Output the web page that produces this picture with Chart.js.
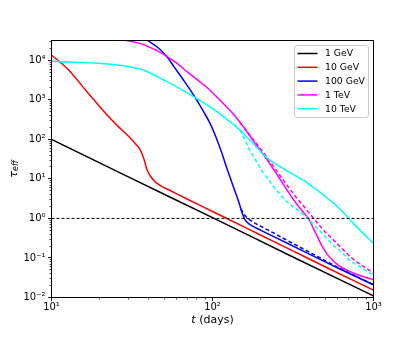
<!DOCTYPE html>
<html><head><meta charset="utf-8">
<script src="https://cdn.jsdelivr.net/npm/chart.js@4.4.1/dist/chart.umd.min.js"></script>
<style>html,body{margin:0;padding:0;background:#fff}canvas{display:block}</style>
</head><body>
<canvas id="c" width="415" height="340" style="width:415px;height:340px"></canvas>
<script>
// ---- data ----
const seriesLabels = ['1 GeV', '10 GeV', '100 GeV', '1 TeV', '10 TeV'];
const seriesColors = ['#000000', '#ff0000', '#0000ff', '#ff00ff', '#00ffff'];

const gev1T   = [10, 30, 100, 300, 1000];
const gev1Tau = [100, 11.2, 1.05, 0.117, 0.011];

const gev10T   = [10, 12.6, 16.7, 22.3, 26, 29.8, 33, 35.5, 37.5, 39, 41, 44, 48, 55, 70, 100, 150, 200, 300, 500, 1000];
const gev10Tau = [13600, 6000, 1550, 400, 210, 125, 80, 55, 32, 18, 12, 8.5, 6.6, 5.0, 3.06, 1.5, 0.667, 0.375, 0.167, 0.06, 0.0153];

const gev100T   = [34, 39.6, 45.8, 51.8, 58, 65.8, 79.7, 88, 96.4, 105, 115, 121, 128.5, 137, 144.8, 150, 154, 158, 164, 175, 200, 240, 300, 400, 600, 1000];
const gev100Tau = [50000, 31600, 21000, 12600, 6600, 3220, 1000, 500, 257, 115, 42, 22, 11, 5.2, 2.8, 1.75, 1.25, 0.98, 0.8, 0.66, 0.5, 0.347, 0.222, 0.125, 0.0556, 0.021];
const gev100DashT   = [150, 155, 160, 167, 180, 200, 234, 300, 400, 600, 1000];
const gev100DashTau = [1.75, 1.4, 1.15, 0.98, 0.8, 0.63, 0.45, 0.26, 0.14, 0.058, 0.021];

const tev1T   = [24, 28, 36, 45.8, 52, 60, 70, 83.6, 95, 106, 120, 135, 148, 160, 175, 190, 200, 215, 235, 263, 290, 318, 350, 380, 395, 420, 446, 470, 515, 570, 623, 700, 791, 900, 1000];
const tev1Tau = [36000, 32500, 26000, 17000, 12500, 8500, 5000, 2850, 1850, 1200, 720, 430, 270, 175, 105, 66, 50, 33, 19.5, 9.8, 5.3, 3.0, 1.8, 1.2, 1.0, 0.6, 0.36, 0.23, 0.125, 0.08, 0.06, 0.047, 0.038, 0.032, 0.028];
const tev1DashT   = [148, 160, 175, 200, 235, 263, 300, 330, 370, 425, 480, 566, 650, 719, 830, 1000];
const tev1DashTau = [270, 180, 112, 56, 23, 12, 5.8, 3.5, 2.0, 1.0, 0.55, 0.28, 0.16, 0.107, 0.068, 0.042];

const tev10T   = [10, 36, 43, 51.8, 62, 75.9, 90, 106, 120, 135, 148, 165, 185, 203, 220, 234, 260, 290, 311, 335, 380, 425, 468, 501, 560, 620, 685, 750, 850, 1000];
const tev10Tau = [9600, 5900, 4300, 2920, 1970, 1216, 800, 507, 345, 237, 174, 110, 68, 45, 33, 27.5, 21, 16, 13.6, 11.4, 8.4, 6.0, 4.5, 3.6, 2.5, 1.7, 1.12, 0.75, 0.45, 0.233];
const tev10DashT   = [148, 158, 167, 185, 203, 225, 245, 270, 296, 330, 351, 386, 425, 480, 540, 620, 719, 850, 1000];
const tev10DashTau = [174, 102, 62, 30, 16, 9, 5.7, 3.6, 2.45, 1.75, 1.45, 1.05, 0.7, 0.42, 0.25, 0.15, 0.085, 0.055, 0.037];

const refLineT = [10, 1000];
const refLineTau = [1, 1];

const xTickValues = [10, 100, 1000];
const xTickLabels = ['10¹', '10²', '10³'];
const yTickValues = [0.01, 0.1, 1, 10, 100, 1000, 10000];
const yTickLabels = ['10⁻²', '10⁻¹', '10⁰', '10¹', '10²', '10³', '10⁴'];
const xMin = 10, xMax = 1000, yMin = 0.01, yMax = 31623;

// ---- build ----
const pts = (t, v) => t.map((x, i) => ({x: x, y: v[i]}));
let ord = 100;
function ds(label, color, t, v, dashed) {
  return {
    label: label, data: pts(t, v), borderColor: color, backgroundColor: color,
    borderWidth: 1.5, borderDash: dashed ? [4, 2.5] : [], pointRadius: 0,
    cubicInterpolationMode: 'monotone', fill: false, order: ord--
  };
}
const datasets = [
  ds(seriesLabels[0], seriesColors[0], gev1T, gev1Tau, false),
  ds(seriesLabels[1], seriesColors[1], gev10T, gev10Tau, false),
  ds(seriesLabels[2], seriesColors[2], gev100T, gev100Tau, false),
  ds(seriesLabels[2] + ' (alt)', seriesColors[2], gev100DashT, gev100DashTau, true),
  ds(seriesLabels[3], seriesColors[3], tev1T, tev1Tau, false),
  ds(seriesLabels[3] + ' (alt)', seriesColors[3], tev1DashT, tev1DashTau, true),
  ds(seriesLabels[4], seriesColors[4], tev10T, tev10Tau, false),
  ds(seriesLabels[4] + ' (alt)', seriesColors[4], tev10DashT, tev10DashTau, true),
];
const ref = ds('τ = 1', '#000000', refLineT, refLineTau, true);
ref.borderWidth = 1; ref.borderDash = [3, 2];
datasets.push(ref);

const FONT = "'DejaVu Sans', sans-serif";

const deco = {
  id: 'deco',
  afterDraw(chart) {
    const ctx = chart.ctx, a = chart.chartArea, xs = chart.scales.x, ys = chart.scales.y;
    ctx.save();
    ctx.strokeStyle = '#000';
    // minor/major tick marks (outward)
    for (let e = -2; e <= 4; e++) for (let k = 1; k <= 9; k++) {
      const v = k * Math.pow(10, e);
      if (v < yMin * 0.999 || v > yMax) continue;
      const py = Math.round(ys.getPixelForValue(v) - 0.5) + 0.5;
      const L = k === 1 ? 3.5 : 2;
      ctx.lineWidth = k === 1 ? 0.9 : 0.7;
      ctx.beginPath(); ctx.moveTo(a.left, py); ctx.lineTo(a.left - L, py); ctx.stroke();
    }
    for (let e = 1; e <= 3; e++) for (let k = 1; k <= 9; k++) {
      const v = k * Math.pow(10, e);
      if (v < xMin * 0.999 || v > xMax * 1.001) continue;
      const px = Math.round(xs.getPixelForValue(v) - 0.5) + 0.5;
      const L = k === 1 ? 3.5 : 2;
      ctx.lineWidth = k === 1 ? 0.9 : 0.7;
      ctx.beginPath(); ctx.moveTo(px, a.bottom); ctx.lineTo(px, a.bottom + L); ctx.stroke();
    }
    // frame
    ctx.lineWidth = 1;
    ctx.strokeRect(a.left, a.top, a.right - a.left, a.bottom - a.top);

    // legend
    const bx = 294.5, by = 45.5, bw = 74, bh = 72, r = 2.5;
    ctx.beginPath();
    ctx.moveTo(bx + r, by); ctx.lineTo(bx + bw - r, by); ctx.arcTo(bx + bw, by, bx + bw, by + r, r);
    ctx.lineTo(bx + bw, by + bh - r); ctx.arcTo(bx + bw, by + bh, bx + bw - r, by + bh, r);
    ctx.lineTo(bx + r, by + bh); ctx.arcTo(bx, by + bh, bx, by + bh - r, r);
    ctx.lineTo(bx, by + r); ctx.arcTo(bx, by, bx + r, by, r); ctx.closePath();
    ctx.fillStyle = 'rgba(255,255,255,0.8)'; ctx.fill();
    ctx.strokeStyle = '#cccccc'; ctx.lineWidth = 1; ctx.stroke();
    ctx.font = '9.3px ' + FONT; ctx.textBaseline = 'middle'; ctx.textAlign = 'left';
    for (let i = 0; i < seriesLabels.length; i++) {
      const yy = 53.5 + i * 13.8;
      ctx.strokeStyle = seriesColors[i]; ctx.lineWidth = 1.5; ctx.setLineDash([]);
      ctx.beginPath(); ctx.moveTo(297.5, yy); ctx.lineTo(317.5, yy); ctx.stroke();
      ctx.fillStyle = '#000'; ctx.fillText(seriesLabels[i], 325, yy + 0.5);
    }

    // x title: t (days)
    ctx.fillStyle = '#000'; ctx.textBaseline = 'alphabetic';
    const xt1 = 't', xt2 = ' (days)';
    ctx.font = 'italic 11px ' + FONT; const w1 = ctx.measureText(xt1).width;
    ctx.font = '11px ' + FONT; const w2 = ctx.measureText(xt2).width;
    const cx = (a.left + a.right) / 2 - (w1 + w2) / 2;
    ctx.font = 'italic 11px ' + FONT; ctx.fillText(xt1, cx, 323);
    ctx.font = '11px ' + FONT; ctx.fillText(xt2, cx + w1, 323);

    // y title: tau_eff
    ctx.save();
    ctx.translate(16.5, (a.top + a.bottom) / 2);
    ctx.rotate(-Math.PI / 2);
    ctx.font = 'italic 11px ' + FONT; const tw = ctx.measureText('τ').width;
    ctx.font = 'italic 8px ' + FONT; const ew = ctx.measureText('eff').width;
    const sx = -(tw + ew) / 2;
    ctx.font = 'italic 11px ' + FONT; ctx.fillText('τ', sx, 0);
    ctx.font = 'italic 8px ' + FONT; ctx.fillText('eff', sx + tw, 1.5);
    ctx.restore();
    ctx.restore();
  }
};

Chart.defaults.font.family = FONT;
Chart.defaults.color = '#000';

new Chart(document.getElementById('c'), {
  type: 'line',
  data: {datasets: datasets},
  options: {
    responsive: false, animation: false, devicePixelRatio: 1,
    layout: {padding: {top: 40.5, right: 41.5, left: 0, bottom: 0}},
    plugins: {legend: {display: false}, tooltip: {enabled: false}},
    scales: {
      x: {
        type: 'logarithmic', min: xMin, max: xMax,
        grid: {display: false, drawTicks: false}, border: {display: false},
        ticks: {
          autoSkip: false, maxRotation: 0, padding: 4, font: {size: 10},
          callback: (v) => { const i = xTickValues.findIndex(t => Math.abs(t - v) < 1e-9 * t); return i >= 0 ? xTickLabels[i] : ''; }
        },
        afterBuildTicks: (s) => { s.ticks = xTickValues.map(v => ({value: v, major: true})); },
        afterFit: (s) => { s.height = 42.5; s.paddingLeft = 0; s.paddingRight = 0; }
      },
      y: {
        type: 'logarithmic', min: yMin, max: yMax,
        grid: {display: false, drawTicks: false}, border: {display: false},
        ticks: {
          autoSkip: false, padding: 6, font: {size: 10},
          callback: (v) => { const i = yTickValues.findIndex(t => Math.abs(t - v) < 1e-9 * t); return i >= 0 ? yTickLabels[i] : ''; }
        },
        afterBuildTicks: (s) => { s.ticks = yTickValues.map(v => ({value: v, major: true})); },
        afterFit: (s) => { s.width = 51.5; s.paddingTop = 0; s.paddingBottom = 0; }
      }
    }
  },
  plugins: [deco]
});
</script>
</body></html>
